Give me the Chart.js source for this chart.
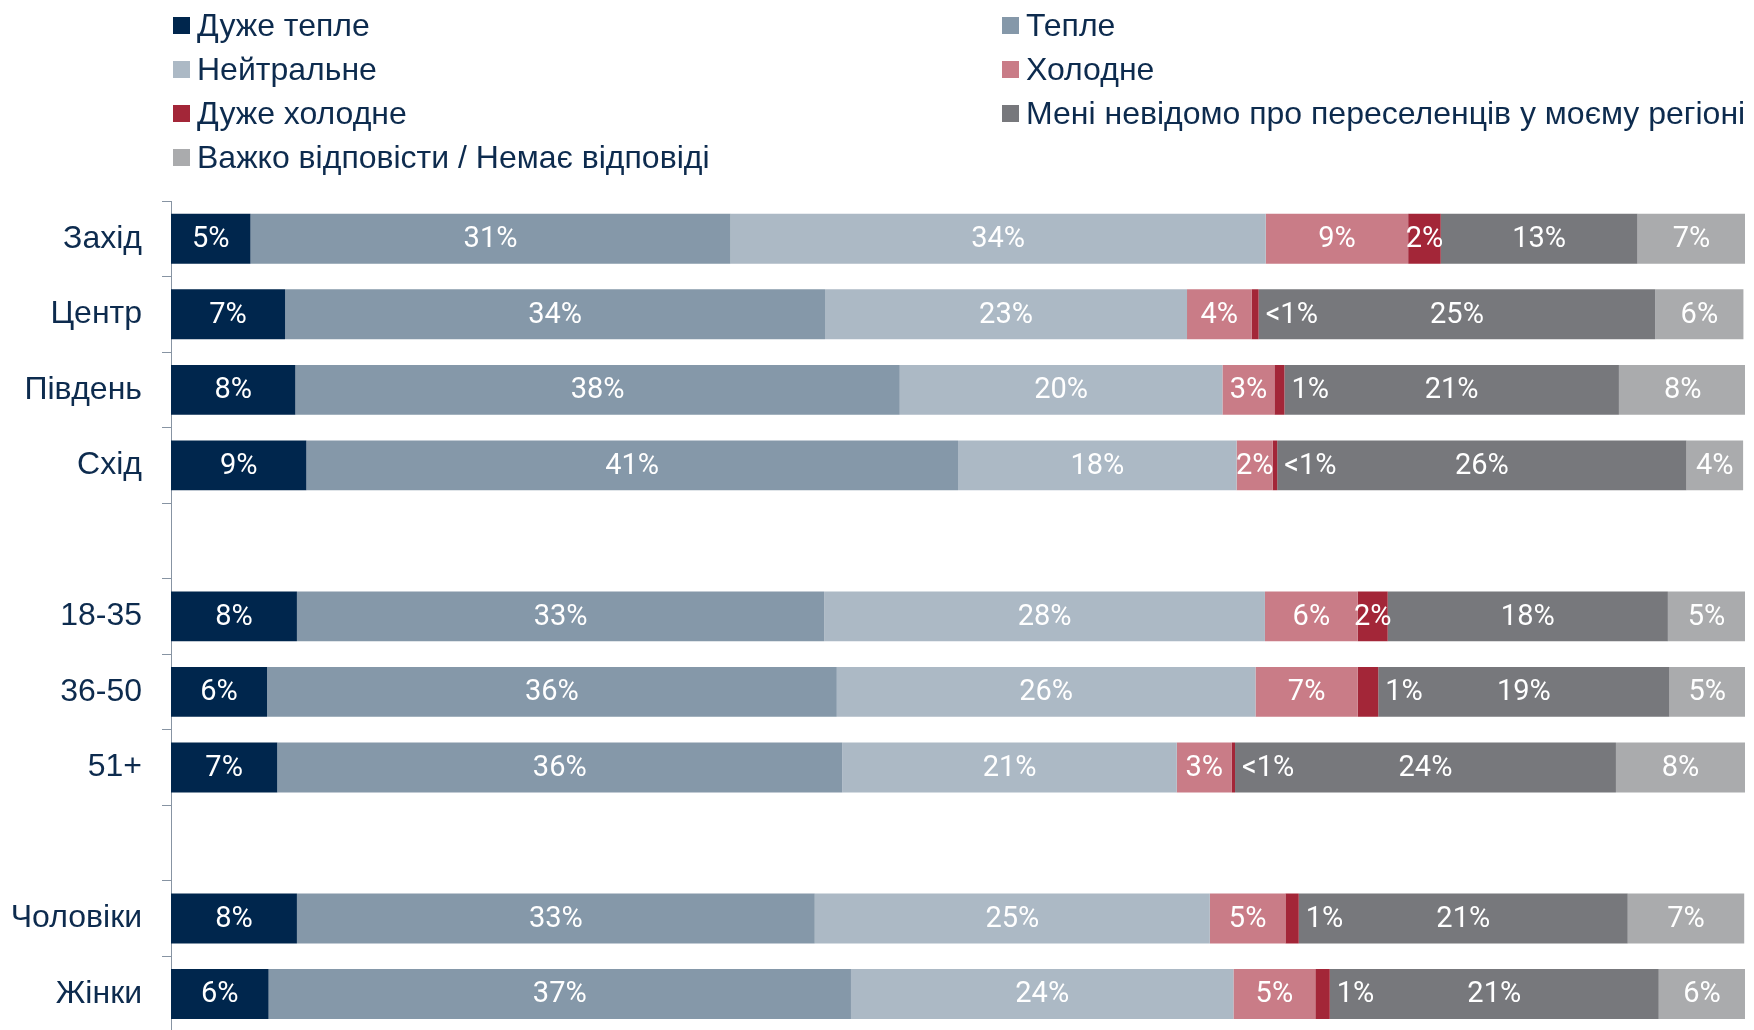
<!DOCTYPE html>
<html>
<head>
<meta charset="utf-8">
<script src="https://cdn.jsdelivr.net/npm/chart.js@4.4.1/dist/chart.umd.min.js"></script>
<style>
    html, body { margin: 0; padding: 0; background: #fff; width: 1754px; height: 1030px; overflow: hidden; }
    #wrap { position: relative; width: 1754px; height: 1071px; }
    #legend { position: absolute; left: 0; top: 0; width: 1754px; height: 190px; }
    .item { position: absolute; height: 40px; display: flex; align-items: center; white-space: nowrap;
            font-family: "Liberation Sans", sans-serif; font-size: 32px; color: #0d2b4e; }
    .sw { width: 17px; height: 17px; margin-right: 7px; flex: none; }
</style>
</head>
<body>
<div id="wrap">
    <canvas id="chart" width="1754" height="1071"></canvas>
    <div id="legend"></div>
</div>
<script>
// категорії (порожні рядки - відступи між групами)
const categories = ['Захід', 'Центр', 'Південь', 'Схід', '', '18-35', '36-50', '51+', '', 'Чоловіки', 'Жінки'];

const seriesNames = [
    'Дуже тепле', 'Тепле', 'Нейтральне', 'Холодне', 'Дуже холодне',
    'Мені невідомо про переселенців у моєму регіоні', 'Важко відповісти / Немає відповіді'
];
const seriesColors = ['#00264d', '#8598a9', '#acb9c5', '#c97c87', '#a32638', '#77787c', '#aaabad'];

// ширини сегментів, як на малюнку (%)
const veryWarm  = [5.05, 7.25, 7.9, 8.6, null, 8.0, 6.1, 6.75, null, 8.0, 6.2];
const warm      = [30.5, 34.3, 38.4, 41.4, null, 33.5, 36.2, 35.9, null, 32.9, 37.0];
const neutral   = [34.0, 23.0, 20.5, 17.7, null, 28.0, 26.6, 21.25, null, 25.1, 24.3];
const cold      = [9.05, 4.1, 3.3, 2.3, null, 5.9, 6.5, 3.5, null, 4.8, 5.2];
const veryCold  = [2.07, 0.45, 0.64, 0.28, null, 1.9, 1.3, 0.2, null, 0.85, 0.92];
const unaware   = [12.5, 25.2, 21.25, 26.0, null, 17.8, 18.5, 24.2, null, 20.9, 20.9];
const hardToSay = [6.85, 5.6, 8.1, 3.6, null, 4.9, 4.8, 8.2, null, 7.4, 5.5];

// підписи на сегментах
const veryWarmLbl  = ['5%', '7%', '8%', '9%', '', '8%', '6%', '7%', '', '8%', '6%'];
const warmLbl      = ['31%', '34%', '38%', '41%', '', '33%', '36%', '36%', '', '33%', '37%'];
const neutralLbl   = ['34%', '23%', '20%', '18%', '', '28%', '26%', '21%', '', '25%', '24%'];
const coldLbl      = ['9%', '4%', '3%', '2%', '', '6%', '7%', '3%', '', '5%', '5%'];
const veryColdLbl  = ['2%', '<1%', '1%', '<1%', '', '2%', '1%', '<1%', '', '1%', '1%'];
const unawareLbl   = ['13%', '25%', '21%', '26%', '', '18%', '19%', '24%', '', '21%', '21%'];
const hardToSayLbl = ['7%', '6%', '8%', '4%', '', '5%', '5%', '8%', '', '7%', '6%'];

const seriesData = [veryWarm, warm, neutral, cold, veryCold, unaware, hardToSay];
const seriesLbls = [veryWarmLbl, warmLbl, neutralLbl, coldLbl, veryColdLbl, unawareLbl, hardToSayLbl];

// легенда у два стовпці
const legend = document.getElementById('legend');
const legendCols = [173, 1002];
const legendRows = [25, 69, 113, 157];
seriesNames.forEach((name, i) => {
    const item = document.createElement('div');
    item.className = 'item';
    item.style.left = legendCols[i % 2] + 'px';
    item.style.top = (legendRows[Math.floor(i / 2)] - 20) + 'px';
    item.innerHTML = `<span class="sw" style="background:${seriesColors[i]}"></span><span>${name}</span>`;
    legend.appendChild(item);
});

// підписи всередині сегментів
const segLabels = {
    id: 'segLabels',
    afterDatasetsDraw(chart) {
        const ctx = chart.ctx;
        ctx.save();
        ctx.font = '29px Roboto, "DejaVu Sans", sans-serif';
        ctx.fillStyle = '#ffffff';
        ctx.textBaseline = 'middle';
        chart.data.datasets.forEach((ds, di) => {
            const meta = chart.getDatasetMeta(di);
            meta.data.forEach((bar, i) => {
                const txt = seriesLbls[di][i];
                if (!txt) return;
                const w = Math.abs(bar.x - bar.base);
                if (w < 25) {
                    // вузький сегмент - підпис праворуч від нього
                    ctx.textAlign = 'left';
                    ctx.fillText(txt, bar.x + 7, bar.y + 1);
                } else {
                    ctx.textAlign = 'center';
                    ctx.fillText(txt, (bar.x + bar.base) / 2, bar.y + 1);
                }
            });
        });
        ctx.restore();
    }
};

new Chart(document.getElementById('chart'), {
    type: 'bar',
    data: {
        labels: categories,
        datasets: seriesNames.map((name, i) => ({
            label: name,
            data: seriesData[i],
            backgroundColor: seriesColors[i],
            borderWidth: 0,
            barPercentage: 0.66,
            categoryPercentage: 1
        }))
    },
    options: {
        indexAxis: 'y',
        responsive: false,
        animation: false,
        layout: { padding: { top: 201, right: 9, bottom: 0, left: 0 } },
        scales: {
            x: { stacked: true, display: false, min: 0, max: 100 },
            y: {
                stacked: true,
                afterFit: (scale) => { scale.width = 171; },
                border: { display: true, color: '#8794a3', width: 1 },
                grid: { display: true, offset: true, drawOnChartArea: false, drawTicks: true, tickLength: 9, color: '#8794a3' },
                ticks: {
                    color: '#0d2b4e',
                    padding: 20,
                    font: { family: '"Liberation Sans"', size: 32 }
                }
            }
        },
        plugins: {
            legend: { display: false },
            tooltip: { enabled: false }
        }
    },
    plugins: [segLabels]
});
</script>
</body>
</html>
